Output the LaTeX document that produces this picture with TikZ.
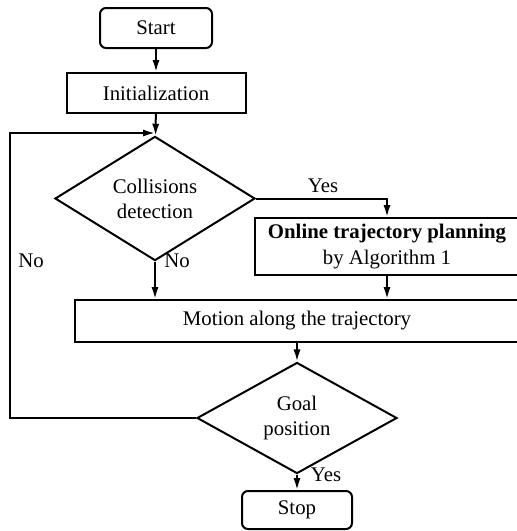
\documentclass[tikz,border=0pt]{standalone}
\usepackage{fontspec}
\setmainfont{Liberation Serif}
\usetikzlibrary{arrows.meta,shapes.geometric}
\tikzset{
	stepblock/.style={draw, line width=1pt, inner sep=0pt, align=center},
	termblock/.style={stepblock, rounded corners=3pt},
	testblock/.style={draw, line width=1pt, diamond, inner sep=0pt, align=center},
	arr/.style={line width=1pt, -{Latex[length=6pt,width=3.6pt]}},
}

\begin{document}
\begin{tikzpicture}[x=0.5pt, y=-0.5pt, font=\fontsize{10.4}{12.6}\selectfont]
		%%%%% START %%%%%
		
		\useasboundingbox (0, 0) rectangle (517, 531);
		
		\node[termblock, minimum width=56pt, minimum height=20pt] (start) at (156, 28) {Start};
		\node[stepblock, minimum width=89.5pt, minimum height=20pt] (init) at (156, 93) {Initialization};
		
		\node[testblock, minimum width=100pt, minimum height=45.5pt] (coll) at (155, 198.5) {Collisions\\detection};
		\node[stepblock, minimum width=132pt, minimum height=28.5pt] (online) at (387, 246.5) {\textbf{Online trajectory planning}\\by Algorithm 1};
		
		\node[stepblock, minimum width=222pt, minimum height=21pt] (motion) at (297, 321) {Motion along the trajectory};
		
		\node[testblock, minimum width=100pt, minimum height=45.5pt] (goal) at (297, 418) {Goal\\position};
		\node[termblock, minimum width=55pt, minimum height=19pt] (stop) at (297, 510) {Stop};
		
		\coordinate (loopl) at (10, 133);
		\coordinate (loopr) at (155, 133);
		
		\draw[arr] (start) -- (init);
		\draw[arr] (init) -- (coll);
		\draw[arr] (coll.east) -| (online.north);
		\draw[arr] (coll.south) -- (coll.south |- motion.north);
		\draw[arr] (online.south) -- (online.south |- motion.north);
		\draw[arr] (goal.north |- motion.south) -- (goal.north);
		\draw[arr] (goal) -- (stop);
		\draw[arr] (goal.west) -| (loopl) -- (loopr);
		
		\node (yes1) at (323, 186) {Yes};
		\node (no1) at (177, 261) {No};
		\node (no2) at (31, 261) {No};
		\node (yes2) at (326, 475) {Yes};
		
		%%%%% END %%%%%
	\end{tikzpicture}
\end{document}
